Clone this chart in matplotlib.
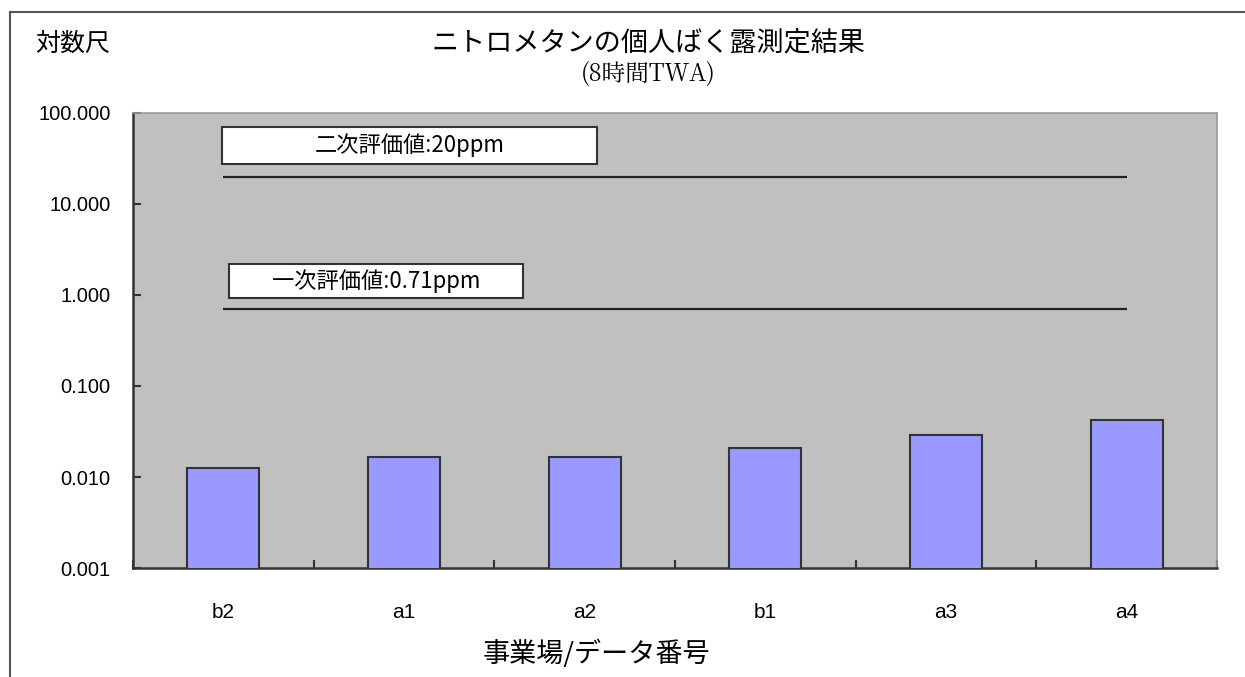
#import libraries
import matplotlib
matplotlib.use("Agg")
import matplotlib.pyplot as plt
from matplotlib.patches import Rectangle
from matplotlib.lines import Line2D

#fonts: Japanese first, DejaVu as fallback
plt.rcParams['font.family'] = ['Noto Sans CJK JP', 'DejaVu Sans']

#data
categories = ['b2', 'a1', 'a2', 'b1', 'a3', 'a4']
values = [0.0125, 0.0167, 0.0167, 0.0208, 0.0289, 0.0423]
second_limit = 20
first_limit = 0.71
second_label = '二次評価値:20ppm'
first_label = '一次評価値:0.71ppm'
y_ticks = [0.001, 0.01, 0.1, 1, 10, 100]
y_tick_labels = ['0.001', '0.010', '0.100', '1.000', '10.000', '100.000']

fig = plt.figure(figsize=(12.45, 6.77), dpi=100)
ax = fig.add_axes([0.1068, 0.1610, 0.8707, 0.6721])
ax.set_facecolor('#c0c0c0')

#bars
x = list(range(len(categories)))
ax.bar(x, values, width=0.4, color='#9999ff', edgecolor='#333333', linewidth=1.5, zorder=3)

#limit lines from first to last category
ax.hlines(second_limit, x[0], x[-1], color='#222222', linewidth=1.6, zorder=2)
ax.hlines(first_limit, x[0], x[-1], color='#222222', linewidth=1.6, zorder=2)

ax.set_yscale('log')
ax.set_ylim(0.001, 100)
ax.set_xlim(-0.5, len(categories) - 0.5)
ax.set_yticks(y_ticks)
ax.set_yticklabels(y_tick_labels, family=['Liberation Sans', 'DejaVu Sans'], fontsize=14.5)
ax.minorticks_off()
ax.tick_params(axis='y', direction='in', length=6, width=1.5, color='#333333', pad=16)

#category labels in the middle, ticks on the boundaries
ax.set_xticks(x)
ax.set_xticklabels(categories, family=['Liberation Sans', 'DejaVu Sans'], fontsize=15)
ax.tick_params(axis='x', which='major', length=0, pad=25)
ax.set_xticks([i - 0.5 for i in range(len(categories) + 1)], minor=True)
ax.tick_params(axis='x', which='minor', direction='in', length=6, width=1.5, color='#333333')

for side in ['left', 'bottom']:
    ax.spines[side].set_color('#333333')
    ax.spines[side].set_linewidth(1.8)
for side in ['top', 'right']:
    ax.spines[side].set_color('#999999')
    ax.spines[side].set_linewidth(1.2)

#label boxes
ax.add_patch(Rectangle((0.0821, 0.888), 0.346, 0.081, transform=ax.transAxes,
                       facecolor='white', edgecolor='#333333', linewidth=1.5, zorder=4))
ax.text(0.0821 + 0.173, 0.9285, second_label, transform=ax.transAxes, ha='center', va='center',
        fontsize=16, zorder=5)
ax.add_patch(Rectangle((0.0886, 0.5934), 0.2712, 0.0746, transform=ax.transAxes,
                       facecolor='white', edgecolor='#333333', linewidth=1.5, zorder=4))
ax.text(0.0886 + 0.1356, 0.6307, first_label, transform=ax.transAxes, ha='center', va='center',
        fontsize=16, zorder=5)

#titles and axis labels
fig.text(648 / 1245, 1 - 43 / 677, 'ニトロメタンの個人ばく露測定結果', ha='center', va='center', fontsize=19.5)
fig.text(648 / 1245, 1 - 74 / 677, '(8時間TWA)', ha='center', va='center', fontsize=17,
         family=['Noto Serif CJK JP', 'Noto Sans CJK JP', 'DejaVu Sans'])
fig.text(73 / 1245, 1 - 44 / 677, '対数尺', ha='center', va='center', fontsize=18)
fig.text(596 / 1245, 1 - 654 / 677, '事業場/データ番号', ha='center', va='center', fontsize=19.5)

#outer frame (left and top edges visible)
fig.add_artist(Line2D([10 / 1245, 10 / 1245], [0, 1 - 12 / 677], transform=fig.transFigure,
                      color='#555555', linewidth=1.5))
fig.add_artist(Line2D([10 / 1245, 1], [1 - 12 / 677, 1 - 12 / 677], transform=fig.transFigure,
                      color='#555555', linewidth=1.5))

fig.savefig('out.png', dpi=100)
